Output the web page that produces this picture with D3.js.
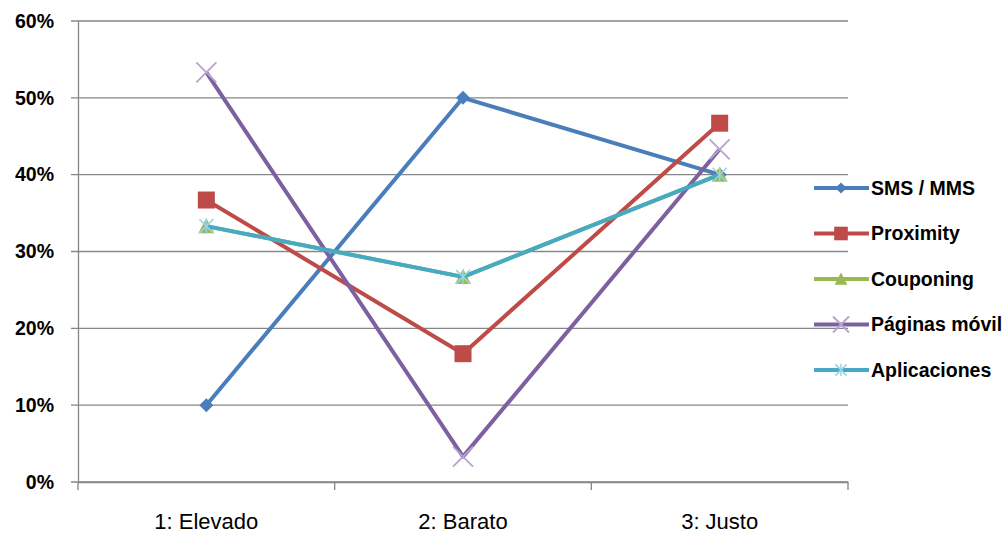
<!DOCTYPE html>
<html>
<head>
<meta charset="utf-8">
<script src="https://cdn.jsdelivr.net/npm/d3@7"></script>
<style>
  html, body { margin: 0; padding: 0; background: #fff; }
  svg { display: block; }
</style>
</head>
<body>
<svg id="chart" width="1007" height="536"></svg>
<script>
// Price-perception shares by channel
const categories = ["1: Elevado", "2: Barato", "3: Justo"];
const seriesNames = ["SMS / MMS", "Proximity", "Couponing", "Páginas móvil", "Aplicaciones"];
const smsValues = [0.10, 0.50, 0.40];
const proximityValues = [0.367, 0.167, 0.467];
const couponingValues = [0.333, 0.267, 0.40];
const paginasValues = [0.533, 0.033, 0.433];
const aplicacionesValues = [0.333, 0.267, 0.40];
const yTickValues = [0, 0.1, 0.2, 0.3, 0.4, 0.5, 0.6];

const seriesStyle = [
  { values: smsValues, color: "#4A7EBB", marker: "diamond", markerColor: "#4A7EBB" },
  { values: proximityValues, color: "#BE4B48", marker: "square", markerColor: "#BE4B48" },
  { values: couponingValues, color: "#98B954", marker: "triangle", markerColor: "#98B954" },
  { values: paginasValues, color: "#7D60A0", marker: "x", markerColor: "#B6A3CF" },
  { values: aplicacionesValues, color: "#46AAC5", marker: "star", markerColor: "#9BD3E3" }
];

const svg = d3.select("#chart");
const plotLeft = 78, plotRight = 848, plotTop = 21, plotBottom = 482;

const x = d3.scaleBand().domain(categories).range([plotLeft, plotRight]);
const y = d3.scaleLinear().domain([0, 0.6]).range([plotBottom, plotTop]);

// gridlines
svg.append("g")
  .selectAll("line")
  .data(yTickValues)
  .join("line")
  .attr("x1", plotLeft - 7).attr("x2", plotRight)
  .attr("y1", d => y(d)).attr("y2", d => y(d))
  .attr("stroke", "#868686").attr("stroke-width", 1.3);

// y axis
const yAxis = svg.append("g")
  .attr("transform", `translate(${plotLeft},0)`)
  .call(d3.axisLeft(y).tickValues(yTickValues).tickFormat(d3.format(".0%")).tickSize(0).tickPadding(24));
yAxis.select(".domain").attr("stroke", "#868686").attr("stroke-width", 1.3);
yAxis.selectAll("text")
  .attr("font-family", "'Liberation Sans', Arial, sans-serif")
  .attr("font-weight", "bold")
  .attr("font-size", 19.5)
  .attr("fill", "#000");

// x axis
const xAxis = svg.append("g")
  .attr("transform", `translate(0,${plotBottom})`)
  .call(d3.axisBottom(x).tickSize(0).tickPadding(31));
xAxis.select(".domain").attr("stroke", "#868686").attr("stroke-width", 1.3);
xAxis.selectAll("text")
  .attr("font-family", "'Liberation Sans', Arial, sans-serif")
  .attr("font-size", 22)
  .attr("fill", "#000");
// category boundary ticks
const boundaries = categories.map(c => x(c)).concat([plotRight]);
svg.append("g")
  .selectAll("line")
  .data(boundaries)
  .join("line")
  .attr("x1", d => d).attr("x2", d => d)
  .attr("y1", plotBottom).attr("y2", plotBottom + 8)
  .attr("stroke", "#868686").attr("stroke-width", 1.3);

const cx = c => x(c) + x.bandwidth() / 2;

function drawMarker(g, type, px, py, color, scale) {
  const s = scale || 1;
  if (type === "diamond") {
    const r = 7 * s;
    g.append("path").attr("d", `M${px},${py - r}L${px + r},${py}L${px},${py + r}L${px - r},${py}Z`).attr("fill", color);
  } else if (type === "square") {
    const h = 8.5 * s;
    g.append("rect").attr("x", px - h).attr("y", py - h).attr("width", 2 * h).attr("height", 2 * h).attr("fill", color);
  } else if (type === "triangle") {
    const h = 8 * s;
    g.append("path").attr("d", `M${px},${py - h}L${px + h},${py + h * 0.9}L${px - h},${py + h * 0.9}Z`).attr("fill", color);
  } else if (type === "x") {
    const h = 10 * s;
    g.append("path").attr("d", `M${px - h},${py - h}L${px + h},${py + h}M${px - h},${py + h}L${px + h},${py - h}`)
      .attr("stroke", color).attr("stroke-width", 1.8).attr("fill", "none");
  } else if (type === "star") {
    const h = 7 * s;
    g.append("path").attr("d", `M${px - h},${py - h}L${px + h},${py + h}M${px - h},${py + h}L${px + h},${py - h}M${px},${py - h * 1.1}L${px},${py + h * 1.1}`)
      .attr("stroke", color).attr("stroke-width", 1.5).attr("fill", "none");
  }
}

const line = d3.line().x((d, i) => cx(categories[i])).y(d => y(d));

seriesStyle.forEach(s => {
  const g = svg.append("g");
  g.append("path").datum(s.values).attr("d", line)
    .attr("fill", "none").attr("stroke", s.color).attr("stroke-width", 4).attr("stroke-linejoin", "round");
  s.values.forEach((v, i) => drawMarker(g, s.marker, cx(categories[i]), y(v), s.markerColor));
});

// legend
const legend = svg.append("g");
seriesStyle.forEach((s, i) => {
  const ly = 188 + i * 45.5;
  const g = legend.append("g");
  g.append("line").attr("x1", 814).attr("x2", 869).attr("y1", ly).attr("y2", ly)
    .attr("stroke", s.color).attr("stroke-width", 4);
  drawMarker(g, s.marker, 841, ly, s.markerColor, 0.8);
  g.append("text").attr("x", 871).attr("y", ly).attr("dy", "0.35em")
    .attr("font-family", "'Liberation Sans Narrow', 'Liberation Sans', Arial, sans-serif")
    .attr("font-weight", "bold").attr("font-size", 19.5).attr("fill", "#000")
    .text(seriesNames[i]);
});
</script>
</body>
</html>
